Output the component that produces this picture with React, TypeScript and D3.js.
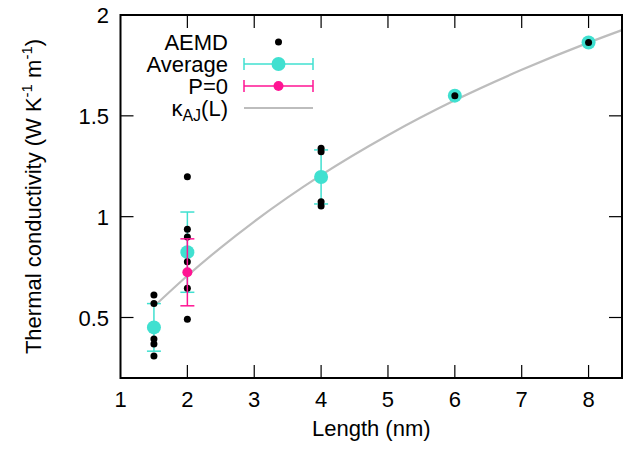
import React from "react";
import * as d3 from "d3";

// ---- data ----
const aemdL = [1.5, 1.5, 1.5, 1.5, 1.5, 2, 2, 2, 2, 2, 2, 4, 4, 4, 4, 6, 8];
const aemdK = [0.612, 0.57, 0.393, 0.369, 0.309, 1.198, 0.937, 0.899, 0.777, 0.645, 0.491, 1.339, 1.322, 1.074, 1.053, 1.6, 1.864];

const avgL = [1.5, 2, 4, 6, 8];
const avgK = [0.451, 0.824, 1.197, 1.6, 1.864];
const avgErr = [0.118, 0.199, 0.134, 0, 0];

const p0L = [2];
const p0K = [0.724];
const p0Err = [0.166];

const fitL = [1.5, 2, 2.5, 3, 4, 5, 6, 7, 8, 8.5];
const fitK = [0.555, 0.707, 0.847, 0.976, 1.206, 1.404, 1.577, 1.728, 1.863, 1.925];

const xTicks = [1, 2, 3, 4, 5, 6, 7, 8];
const yTicks = [0.5, 1, 1.5, 2];

const W = 635;
const H = 452;
const M = { left: 120.5, right: 622, top: 15, bottom: 378 };
const FONT = "'Liberation Sans', Arial, Helvetica, sans-serif";
const TURQ = "#40e0d0";
const PINK = "#ff1493";
const GRAY = "#bdbdbd";

export default function App() {
  const x = d3.scaleLinear().domain([1, 8.5]).range([M.left, M.right]);
  const y = d3.scaleLinear().domain([0.2, 2]).range([M.bottom, M.top]);
  const line = d3
    .line<number>()
    .x((_, i) => x(fitL[i]))
    .y((d) => y(d))
    .curve(d3.curveMonotoneX);
  const tickLen = 13;
  const cap = 7;
  const fs = 22;

  const legendX = 228;
  const sx0 = 244;
  const sx1 = 313;
  const sxc = (sx0 + sx1) / 2;
  const rows = [42, 64, 86, 108];

  return (
    <svg width={W} height={H} style={{ position: "absolute", left: 0, top: 0, background: "#fff" }}>
      <rect x={0} y={0} width={W} height={H} fill="#fff" />
      {/* ticks */}
      {xTicks.map((t) => (
        <g key={"xt" + t}>
          {t > 1 && (
            <>
              <line x1={x(t)} x2={x(t)} y1={M.bottom} y2={M.bottom - tickLen} stroke="#000" strokeWidth={1.2} />
              <line x1={x(t)} x2={x(t)} y1={M.top} y2={M.top + tickLen} stroke="#000" strokeWidth={1.2} />
            </>
          )}
          <text x={x(t)} y={407} textAnchor="middle" fontFamily={FONT} fontSize={fs}>
            {t}
          </text>
        </g>
      ))}
      {yTicks.map((t) => (
        <g key={"yt" + t}>
          <line x1={M.left} x2={M.left + tickLen} y1={y(t)} y2={y(t)} stroke="#000" strokeWidth={1.2} />
          <line x1={M.right} x2={M.right - tickLen} y1={y(t)} y2={y(t)} stroke="#000" strokeWidth={1.2} />
          <text x={109} y={y(t) + 8} textAnchor="end" fontFamily={FONT} fontSize={fs}>
            {t}
          </text>
        </g>
      ))}

      {/* fit curve */}
      <path d={line(fitK) || ""} fill="none" stroke={GRAY} strokeWidth={2.2} />

      {/* average error bars and circles */}
      {avgL.map((l, i) => (
        <g key={"avg" + i}>
          {avgErr[i] > 0 && (
            <g stroke={TURQ} strokeWidth={1.5}>
              <line x1={x(l)} x2={x(l)} y1={y(avgK[i] - avgErr[i])} y2={y(avgK[i] + avgErr[i])} />
              <line x1={x(l) - cap} x2={x(l) + cap} y1={y(avgK[i] - avgErr[i])} y2={y(avgK[i] - avgErr[i])} />
              <line x1={x(l) - cap} x2={x(l) + cap} y1={y(avgK[i] + avgErr[i])} y2={y(avgK[i] + avgErr[i])} />
            </g>
          )}
          <circle cx={x(l)} cy={y(avgK[i])} r={7} fill={TURQ} />
        </g>
      ))}

      {/* AEMD points */}
      {aemdL.map((l, i) => (
        <circle key={"a" + i} cx={x(l)} cy={y(aemdK[i])} r={3.5} fill="#000" />
      ))}

      {/* P=0 */}
      {p0L.map((l, i) => (
        <g key={"p" + i}>
          <g stroke={PINK} strokeWidth={1.5}>
            <line x1={x(l)} x2={x(l)} y1={y(p0K[i] - p0Err[i])} y2={y(p0K[i] + p0Err[i])} />
            <line x1={x(l) - cap} x2={x(l) + cap} y1={y(p0K[i] - p0Err[i])} y2={y(p0K[i] - p0Err[i])} />
            <line x1={x(l) - cap} x2={x(l) + cap} y1={y(p0K[i] + p0Err[i])} y2={y(p0K[i] + p0Err[i])} />
          </g>
          <circle cx={x(l)} cy={y(p0K[i])} r={5} fill={PINK} />
        </g>
      ))}

      {/* frame */}
      <rect x={M.left} y={M.top} width={M.right - M.left} height={M.bottom - M.top} fill="none" stroke="#000" strokeWidth={2} />

      {/* legend */}
      <g fontFamily={FONT} fontSize={fs} textAnchor="end">
        <text x={legendX} y={rows[0] + 8}>AEMD</text>
        <circle cx={sxc} cy={rows[0]} r={3.5} fill="#000" />

        <text x={legendX} y={rows[1] + 8}>Average</text>
        <g stroke={TURQ} strokeWidth={1.5}>
          <line x1={sx0} x2={sx1} y1={rows[1]} y2={rows[1]} />
          <line x1={sx0} x2={sx0} y1={rows[1] - 6} y2={rows[1] + 6} />
          <line x1={sx1} x2={sx1} y1={rows[1] - 6} y2={rows[1] + 6} />
        </g>
        <circle cx={sxc} cy={rows[1]} r={7} fill={TURQ} />

        <text x={legendX} y={rows[2] + 8}>P=0</text>
        <g stroke={PINK} strokeWidth={1.5}>
          <line x1={sx0} x2={sx1} y1={rows[2]} y2={rows[2]} />
          <line x1={sx0} x2={sx0} y1={rows[2] - 6} y2={rows[2] + 6} />
          <line x1={sx1} x2={sx1} y1={rows[2] - 6} y2={rows[2] + 6} />
        </g>
        <circle cx={sxc} cy={rows[2]} r={5} fill={PINK} />

        <text x={legendX} y={rows[3] + 8}>
          κ<tspan fontSize={16} dy={5}>AJ</tspan>
          <tspan dy={-5}>(L)</tspan>
        </text>
        <line x1={sx0} x2={sx1} y1={rows[3]} y2={rows[3]} stroke={GRAY} strokeWidth={2.2} />
      </g>

      {/* axis titles */}
      <text x={(M.left + M.right) / 2} y={436} textAnchor="middle" fontFamily={FONT} fontSize={fs}>
        Length (nm)
      </text>
      <text
        transform={`translate(41, ${(M.top + M.bottom) / 2}) rotate(-90)`}
        textAnchor="middle"
        fontFamily={FONT}
        fontSize={fs}
      >
        Thermal conductivity (W K<tspan fontSize={15} dy={-9}>-1</tspan>
        <tspan dy={9}> m</tspan>
        <tspan fontSize={15} dy={-9}>-1</tspan>
        <tspan dy={9}>)</tspan>
      </text>
    </svg>
  );
}
